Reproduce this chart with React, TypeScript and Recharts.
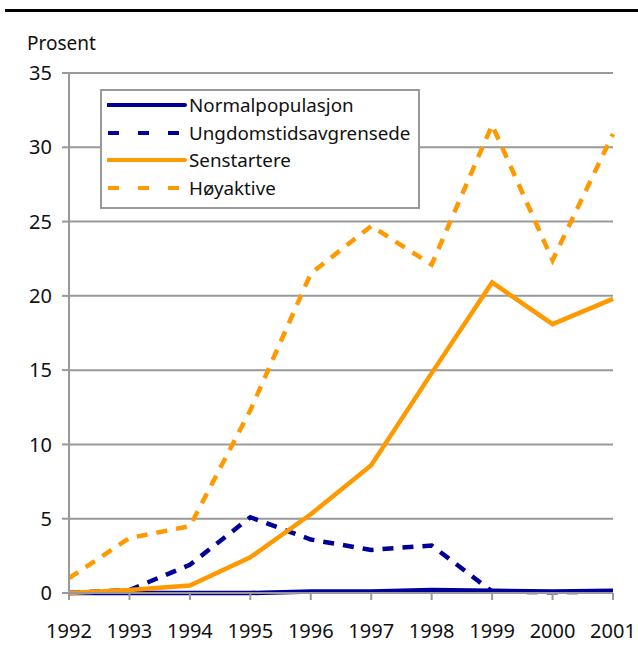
import { CartesianGrid, Line, LineChart, XAxis, YAxis } from 'recharts';

const years = ['1992', '1993', '1994', '1995', '1996', '1997', '1998', '1999', '2000', '2001'];
const normalpopulasjon = [0, 0, 0, 0, 0.1, 0.1, 0.2, 0.15, 0.1, 0.15];
const ungdomstid = [0, 0.2, 1.9, 5.1, 3.6, 2.9, 3.2, 0.1, 0.05, 0.1];
const senstartere = [0, 0.2, 0.5, 2.4, 5.3, 8.6, 14.8, 20.9, 18.1, 19.8];
const hoyaktive = [1.0, 3.7, 4.5, 12.3, 21.5, 24.7, 22.1, 31.5, 22.4, 30.9];
const yTicks = [0, 5, 10, 15, 20, 25, 30, 35];

const NAVY = '#000099';
const ORANGE = '#ff9900';
const GRID = '#999999';
const FONT = '"Noto Sans", sans-serif';

const data = years.map((year, i) => ({
  year,
  normal: normalpopulasjon[i],
  ungdom: ungdomstid[i],
  sen: senstartere[i],
  hoy: hoyaktive[i],
}));

const series = [
  { key: 'normal', name: 'Normalpopulasjon', color: NAVY, dash: undefined },
  { key: 'ungdom', name: 'Ungdomstidsavgrensede', color: NAVY, dash: '11 9' },
  { key: 'sen', name: 'Senstartere', color: ORANGE, dash: undefined },
  { key: 'hoy', name: 'Høyaktive', color: ORANGE, dash: '11 9' },
];

function LegendBox() {
  return (
    <div
      style={{
        position: 'absolute',
        left: 100,
        top: 89,
        width: 316,
        height: 116,
        background: '#fff',
        border: `2px solid ${GRID}`,
        fontFamily: FONT,
        fontSize: 18.8,
        color: '#111',
      }}
    >
      {series.map((s, i) => (
        <div key={s.key} style={{ position: 'absolute', left: 5, top: 1 + i * 27.5, height: 26, display: 'flex', alignItems: 'center' }}>
          <svg width={80} height={10}>
            <line x1={1} x2={78} y1={5} y2={5} stroke={s.color} strokeWidth={4} strokeDasharray={s.dash ? '11 19' : undefined} strokeLinecap={s.dash ? 'butt' : 'round'} />
          </svg>
          <span style={{ marginLeft: 2 }}>{s.name}</span>
        </div>
      ))}
    </div>
  );
}

export default function App() {
  return (
    <div style={{ position: 'absolute', left: 0, top: 0, width: 638, height: 653, background: '#fff', overflow: 'hidden' }}>
      <div style={{ position: 'absolute', left: 5, top: 9, width: 633, height: 3, background: '#000' }} />
      <div style={{ position: 'absolute', left: 27, top: 30, fontFamily: FONT, fontSize: 19, color: '#111' }}>Prosent</div>
      <LineChart
        width={638}
        height={653}
        data={data}
        margin={{ top: 73, right: 25, bottom: 20, left: 0 }}
        style={{ fontFamily: FONT }}
      >
        <CartesianGrid vertical={false} stroke={GRID} strokeWidth={2} />
        <XAxis
          dataKey="year"
          stroke={GRID}
          strokeWidth={2}
          tickSize={7}
          tick={{ fill: '#111', fontSize: 20 }}
          tickMargin={24}
          height={40}
          interval={0}
        />
        <YAxis
          domain={[0, 35]}
          ticks={yTicks}
          stroke={GRID}
          strokeWidth={2}
          width={69}
          tickSize={7}
          tickMargin={10}
          tick={{ fill: '#111', fontSize: 20 }}
        />
        {series.map((s) => (
          <Line
            key={s.key}
            dataKey={s.key}
            name={s.name}
            stroke={s.color}
            strokeWidth={4.5}
            strokeDasharray={s.dash}
            dot={false}
            type="linear"
            isAnimationActive={false}
          />
        ))}
      </LineChart>
      <LegendBox />
    </div>
  );
}
